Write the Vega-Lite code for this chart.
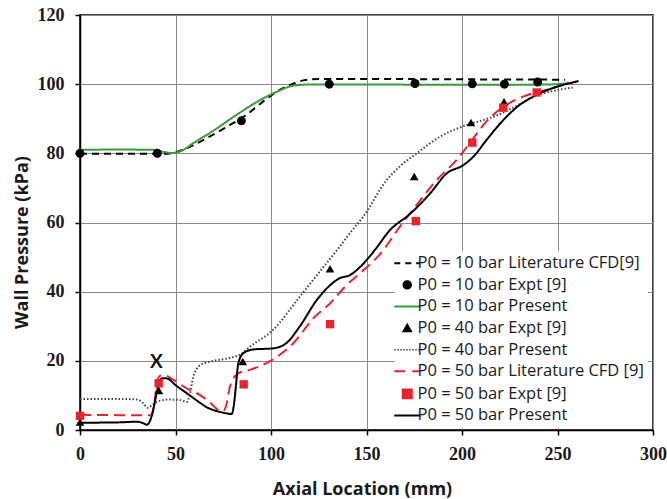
{
  "$schema": "https://vega.github.io/schema/vega-lite/v6.json",
  "width": 573,
  "height": 415,
  "autosize": {"type": "none"},
  "padding": {"left": 80, "top": 15, "right": 14, "bottom": 69},
  "background": "white",
  "config": {
    "view": {"stroke": "black", "strokeWidth": 1.5},
    "axis": {
      "domainColor": "black",
      "domainWidth": 1.5,
      "tickColor": "black",
      "tickWidth": 1.5,
      "tickSize": 5,
      "grid": true,
      "gridColor": "#8a8a8a",
      "gridWidth": 1,
      "labelFont": "Liberation Serif",
      "labelFontSize": 18,
      "labelFontWeight": "bold",
      "labelColor": "#1a1a1a",
      "titleFont": "Open Sans",
      "titleFontSize": 18,
      "titleFontWeight": "bold",
      "titleColor": "#1a1a1a"
    }
  },
  "datasets": {
    "lines": [
      {"s": "a", "x": 0, "y": 79.9}, {"s": "a", "x": 44, "y": 79.9}, {"s": "a", "x": 50, "y": 80.3}, {"s": "a", "x": 58, "y": 82}, {"s": "a", "x": 66, "y": 84.3}, {"s": "a", "x": 77, "y": 87.7}, {"s": "a", "x": 87, "y": 91.1}, {"s": "a", "x": 98, "y": 95.9}, {"s": "a", "x": 105, "y": 98.5}, {"s": "a", "x": 112, "y": 100.2}, {"s": "a", "x": 117, "y": 101.1}, {"s": "a", "x": 125, "y": 101.5}, {"s": "a", "x": 150, "y": 101.5}, {"s": "a", "x": 200, "y": 101.4}, {"s": "a", "x": 254, "y": 101.3},
      {"s": "c", "x": 0, "y": 81}, {"s": "c", "x": 20, "y": 81.1}, {"s": "c", "x": 38, "y": 81}, {"s": "c", "x": 44, "y": 80.4}, {"s": "c", "x": 48, "y": 80.1}, {"s": "c", "x": 53, "y": 80.7}, {"s": "c", "x": 60, "y": 83.2}, {"s": "c", "x": 70, "y": 86.6}, {"s": "c", "x": 80, "y": 90.4}, {"s": "c", "x": 94, "y": 95.3}, {"s": "c", "x": 103, "y": 97.8}, {"s": "c", "x": 112, "y": 99.6}, {"s": "c", "x": 120, "y": 99.9}, {"s": "c", "x": 150, "y": 99.9}, {"s": "c", "x": 200, "y": 99.8}, {"s": "c", "x": 245, "y": 99.9}, {"s": "c", "x": 256, "y": 100.3},
      {"s": "e", "x": 0, "y": 9}, {"s": "e", "x": 20, "y": 9}, {"s": "e", "x": 30, "y": 8.8}, {"s": "e", "x": 33, "y": 7.8}, {"s": "e", "x": 35.5, "y": 6.4}, {"s": "e", "x": 38, "y": 7.3}, {"s": "e", "x": 41, "y": 8.3}, {"s": "e", "x": 46, "y": 8.8}, {"s": "e", "x": 52, "y": 8.7}, {"s": "e", "x": 56, "y": 8.1}, {"s": "e", "x": 57.6, "y": 10.5}, {"s": "e", "x": 59.3, "y": 15.4}, {"s": "e", "x": 61, "y": 17.6}, {"s": "e", "x": 63, "y": 18.8}, {"s": "e", "x": 70, "y": 20}, {"s": "e", "x": 77, "y": 20.7}, {"s": "e", "x": 85, "y": 22.2}, {"s": "e", "x": 89, "y": 24.1}, {"s": "e", "x": 101, "y": 28.9}, {"s": "e", "x": 115, "y": 38.5}, {"s": "e", "x": 129, "y": 48.2}, {"s": "e", "x": 136, "y": 53}, {"s": "e", "x": 141.4, "y": 57}, {"s": "e", "x": 148.3, "y": 61.7}, {"s": "e", "x": 160.6, "y": 72.3}, {"s": "e", "x": 168, "y": 76.5}, {"s": "e", "x": 176.3, "y": 80}, {"s": "e", "x": 188.5, "y": 84.8}, {"s": "e", "x": 204.2, "y": 88.5}, {"s": "e", "x": 211, "y": 89.6}, {"s": "e", "x": 221, "y": 91.6}, {"s": "e", "x": 230, "y": 94.2}, {"s": "e", "x": 239, "y": 96.7}, {"s": "e", "x": 250, "y": 98.3}, {"s": "e", "x": 258, "y": 99},
      {"s": "f", "x": 0, "y": 4.4}, {"s": "f", "x": 20, "y": 4.3}, {"s": "f", "x": 37, "y": 4.3}, {"s": "f", "x": 39, "y": 8}, {"s": "f", "x": 40.5, "y": 14.5}, {"s": "f", "x": 42, "y": 15.7}, {"s": "f", "x": 43.6, "y": 15.9}, {"s": "f", "x": 48.9, "y": 14.5}, {"s": "f", "x": 56, "y": 12}, {"s": "f", "x": 62.8, "y": 10.1}, {"s": "f", "x": 68, "y": 8}, {"s": "f", "x": 73.3, "y": 5.5}, {"s": "f", "x": 75, "y": 5.4}, {"s": "f", "x": 76.5, "y": 7}, {"s": "f", "x": 78.5, "y": 12.5}, {"s": "f", "x": 82.9, "y": 16.4}, {"s": "f", "x": 89, "y": 17.4}, {"s": "f", "x": 100.4, "y": 20.2}, {"s": "f", "x": 111.7, "y": 25.1}, {"s": "f", "x": 122.2, "y": 32.3}, {"s": "f", "x": 130.9, "y": 36.6}, {"s": "f", "x": 139.6, "y": 41.9}, {"s": "f", "x": 147, "y": 45.5}, {"s": "f", "x": 157, "y": 50.8}, {"s": "f", "x": 167.5, "y": 58.8}, {"s": "f", "x": 177, "y": 65.6}, {"s": "f", "x": 186.8, "y": 72.3}, {"s": "f", "x": 197.2, "y": 78.1}, {"s": "f", "x": 205.9, "y": 84.3}, {"s": "f", "x": 212.9, "y": 89.3}, {"s": "f", "x": 221.6, "y": 93.4}, {"s": "f", "x": 232, "y": 96.4}, {"s": "f", "x": 245, "y": 98.5}, {"s": "f", "x": 253, "y": 99.8}, {"s": "f", "x": 260, "y": 100.7},
      {"s": "h", "x": 0, "y": 2.1}, {"s": "h", "x": 20, "y": 2.2}, {"s": "h", "x": 29.7, "y": 2.4}, {"s": "h", "x": 33, "y": 2}, {"s": "h", "x": 35, "y": 1.5}, {"s": "h", "x": 36.5, "y": 2.5}, {"s": "h", "x": 38, "y": 5}, {"s": "h", "x": 39.5, "y": 9}, {"s": "h", "x": 40.5, "y": 11.6}, {"s": "h", "x": 42, "y": 14.5}, {"s": "h", "x": 43.6, "y": 15}, {"s": "h", "x": 46, "y": 14.8}, {"s": "h", "x": 50, "y": 13}, {"s": "h", "x": 56, "y": 10.6}, {"s": "h", "x": 62, "y": 8.2}, {"s": "h", "x": 66, "y": 6.7}, {"s": "h", "x": 72, "y": 5.4}, {"s": "h", "x": 77, "y": 4.8}, {"s": "h", "x": 79.4, "y": 4.6}, {"s": "h", "x": 80.5, "y": 7}, {"s": "h", "x": 81.5, "y": 12}, {"s": "h", "x": 82.9, "y": 19.3}, {"s": "h", "x": 85.5, "y": 22.2}, {"s": "h", "x": 90.8, "y": 23.3}, {"s": "h", "x": 101, "y": 23.6}, {"s": "h", "x": 108, "y": 25.1}, {"s": "h", "x": 115, "y": 29.9}, {"s": "h", "x": 124, "y": 37.6}, {"s": "h", "x": 131, "y": 41.9}, {"s": "h", "x": 136, "y": 43.9}, {"s": "h", "x": 141.4, "y": 44.8}, {"s": "h", "x": 146, "y": 46.8}, {"s": "h", "x": 153.6, "y": 51.5}, {"s": "h", "x": 162.3, "y": 57.8}, {"s": "h", "x": 172.8, "y": 62.5}, {"s": "h", "x": 183.3, "y": 68.4}, {"s": "h", "x": 192, "y": 74.2}, {"s": "h", "x": 200.7, "y": 76.6}, {"s": "h", "x": 205.9, "y": 79}, {"s": "h", "x": 212.9, "y": 83.9}, {"s": "h", "x": 221.6, "y": 89.6}, {"s": "h", "x": 228.6, "y": 93.3}, {"s": "h", "x": 239, "y": 96.9}, {"s": "h", "x": 253, "y": 99.8}, {"s": "h", "x": 261, "y": 100.9}
    ],
    "points": [
      {"s": "b", "x": 0, "y": 80}, {"s": "b", "x": 40.5, "y": 80}, {"s": "b", "x": 84.5, "y": 89.4}, {"s": "b", "x": 130.5, "y": 100}, {"s": "b", "x": 175.4, "y": 100.2}, {"s": "b", "x": 205.4, "y": 100.1}, {"s": "b", "x": 222.2, "y": 100}, {"s": "b", "x": 239.6, "y": 100.6},
      {"s": "d", "x": 0, "y": 2.3}, {"s": "d", "x": 41.3, "y": 11.4}, {"s": "d", "x": 85.2, "y": 19.8}, {"s": "d", "x": 130.9, "y": 46.6}, {"s": "d", "x": 175, "y": 73.3}, {"s": "d", "x": 204.7, "y": 88.9}, {"s": "d", "x": 222, "y": 94.9},
      {"s": "g", "x": 0, "y": 4.1}, {"s": "g", "x": 41.2, "y": 13.5}, {"s": "g", "x": 85.7, "y": 13.2}, {"s": "g", "x": 130.9, "y": 30.6}, {"s": "g", "x": 175.8, "y": 60.4}, {"s": "g", "x": 205.4, "y": 83.1}, {"s": "g", "x": 221.6, "y": 93.2}, {"s": "g", "x": 239.1, "y": 97.6}
    ],
    "notes": [{"x": 40, "y": 19.6, "t": "X"}]
  },
  "encoding": {
    "x": {
      "field": "x",
      "type": "quantitative",
      "scale": {"domain": [0, 300], "nice": false},
      "axis": {
        "values": [0, 50, 100, 150, 200, 250, 300],
        "title": "Axial Location (mm)",
        "labelPadding": 10,
        "labelFlush": false,
        "titleBaseline": "alphabetic",
        "titleY": 64,
        "titleX": 282
      }
    },
    "y": {
      "field": "y",
      "type": "quantitative",
      "scale": {"domain": [0, 120], "nice": false},
      "axis": {
        "values": [0, 20, 40, 60, 80, 100, 120],
        "title": "Wall Pressure (kPa)",
        "labelPadding": 11,
        "labelFlush": false,
        "titleAngle": -90,
        "titleBaseline": "alphabetic",
        "titleAlign": "center",
        "titleX": -53,
        "titleY": 227
      }
    }
  },
  "layer": [
    {
      "data": {"name": "lines"},
      "mark": {"type": "line", "interpolate": "monotone"},
      "encoding": {
        "color": {
          "field": "s",
          "type": "nominal",
          "scale": {
            "domain": ["a", "b", "c", "d", "e", "f", "g", "h"],
            "range": ["#000000", "#000000", "#3a9b3a", "#000000", "#444444", "#e8232b", "#e8232b", "#000000"]
          },
          "legend": {
            "orient": "none",
            "legendX": 315,
            "legendY": 236,
            "title": null,
            "fillColor": "white",
            "padding": 4,
            "labelFont": "Open Sans",
            "labelFontSize": 16.5,
            "labelColor": "#1a1a1a",
            "labelOffset": 2,
            "labelLimit": 320,
            "symbolSize": 676,
            "rowPadding": 4.6,
            "labelExpr": "{'a': 'P0 = 10 bar Literature CFD[9]', 'b': 'P0 = 10 bar Expt [9]', 'c': 'P0 = 10 bar Present', 'd': 'P0 = 40 bar Expt [9]', 'e': 'P0 = 40 bar Present', 'f': 'P0 = 50 bar Literature CFD [9]', 'g': 'P0 = 50 bar Expt [9]', 'h': 'P0 = 50 bar Present'}[datum.value]",
            "encode": {
              "symbols": {
                "update": {
                  "shape": {"signal": "datum.value === 'b' ? 'circle' : datum.value === 'd' ? 'triangle-up' : datum.value === 'g' ? 'square' : 'stroke'"},
                  "size": {"signal": "datum.value === 'b' ? 55 : datum.value === 'd' ? 55 : datum.value === 'g' ? 80 : 676"},
                  "fill": {"signal": "datum.value === 'b' || datum.value === 'd' ? '#000000' : datum.value === 'g' ? '#e8232b' : 'transparent'"},
                  "stroke": {"signal": "datum.value === 'c' ? '#3a9b3a' : datum.value === 'e' ? '#444444' : datum.value === 'f' ? '#e8232b' : (datum.value === 'a' || datum.value === 'h') ? '#000000' : 'transparent'"},
                  "strokeDash": {"signal": "datum.value === 'a' ? [6, 5] : datum.value === 'e' ? [1.5, 1.5] : datum.value === 'f' ? [11, 7] : [1, 0]"},
                  "strokeWidth": {"signal": "datum.value === 'e' ? 1.5 : 2"},
                  "opacity": {"value": 1}
                }
              }
            }
          }
        },
        "strokeDash": {
          "field": "s",
          "type": "nominal",
          "scale": {"domain": ["a", "c", "e", "f", "h"], "range": [[7, 5], [1, 0], [1.5, 2], [11, 6], [1, 0]]},
          "legend": null
        },
        "strokeWidth": {
          "field": "s",
          "type": "nominal",
          "scale": {"domain": ["a", "c", "e", "f", "h"], "range": [2, 2, 1.5, 2, 2]},
          "legend": null
        }
      }
    },
    {
      "data": {"name": "points"},
      "mark": {"type": "point", "filled": true, "opacity": 1},
      "encoding": {
        "color": {"field": "s", "type": "nominal"},
        "shape": {
          "field": "s",
          "type": "nominal",
          "scale": {"domain": ["b", "d", "g"], "range": ["circle", "triangle-up", "square"]},
          "legend": null
        },
        "size": {
          "field": "s",
          "type": "nominal",
          "scale": {"domain": ["b", "d", "g"], "range": [80, 70, 100]},
          "legend": null
        }
      }
    },
    {
      "data": {"name": "notes"},
      "mark": {"type": "text", "font": "Lato", "fontWeight": "bold", "fontSize": 19, "baseline": "middle", "align": "center", "color": "#111111"},
      "encoding": {"text": {"field": "t"}}
    }
  ]
}
